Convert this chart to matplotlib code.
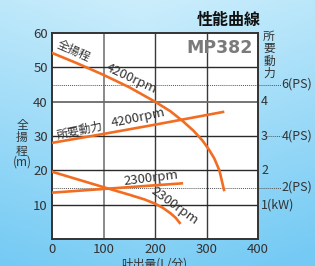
import numpy as np
import matplotlib
matplotlib.use("Agg")
import matplotlib.pyplot as plt

plt.rcParams['font.family'] = ['Noto Sans CJK JP', 'DejaVu Sans']

# ---- data ----
head4200_q = [0, 50, 100, 150, 200, 230, 255, 275, 292, 305, 315, 325, 334]
head4200_h = [54.2, 51.1, 47.8, 44.2, 40.0, 37.2, 34.2, 31.5, 28.7, 26.0, 23.5, 20.0, 14.3]
power4200_q = [0, 100, 200, 332]
power4200_p = [28.0, 30.6, 33.3, 37.0]
head2300_q = [0, 100, 150, 180, 200, 215, 230, 240, 248]
head2300_h = [19.6, 15.1, 12.9, 11.5, 10.3, 9.1, 7.5, 6.2, 4.7]
power2300_q = [0, 252]
power2300_p = [13.5, 16.2]
x_ticks = [0, 100, 200, 300, 400]
y_ticks = [0, 10, 20, 30, 40, 50, 60]
right_kw_labels = [(40, "4"), (30, "3"), (20, "2"), (10, "1(kW)")]
ps_lines = [(45, "6(PS)"), (30, "4(PS)"), (15, "2(PS)")]

orange = "#f26d21"
txt = "#333333"

fig = plt.figure(figsize=(3.15, 2.66), dpi=100)

# background gradient
bg = fig.add_axes([0, 0, 1, 1], zorder=-10)
h, w = 266, 315
yy, xx = np.mgrid[0:h, 0:w]
top = np.array([0xcc, 0xee, 0xfc]) / 255
bot = np.array([0x74, 0xca, 0xf4]) / 255
t = (yy / h) * 0.85 + (np.abs(xx - w * 0.45) / w) * 0.35
t = np.clip(t, 0, 1)[..., None]
img = top * (1 - t) + bot * t
bg.imshow(img, aspect='auto', extent=[0, 1, 0, 1])
bg.set_axis_off()

ax = fig.add_axes([52 / 315, 27 / 266, 206 / 315, 206 / 266])
ax.set_facecolor("white")
ax.set_xlim(0, 400)
ax.set_ylim(0, 60)

# grid
for xv in [100, 200, 300]:
    if xv == 100:
        ax.axvline(xv, color="#8a8a8a", lw=1.4, zorder=1)
    else:
        ax.axvline(xv, color="#3a3a3a", lw=1.0, zorder=1)
for yv in [10, 20, 30, 40, 50]:
    if yv == 40:
        ax.axhline(yv, color="#6a6a6a", lw=1.3, zorder=1)
    else:
        ax.axhline(yv, color="#2a2a2a", lw=1.0, zorder=1)

# dotted PS reference lines
for yv, lab in ps_lines:
    if yv == 30:
        ax.plot([414, 444], [yv, yv], ls=(0, (1, 1)), color="#555555", lw=0.7, clip_on=False)
    else:
        ax.plot([0, 444], [yv, yv], ls=(0, (1, 1)), color="#555555", lw=0.7, clip_on=False, zorder=1.5)
    ax.text(446, yv, lab, fontsize=9, color=txt, va='center', ha='left', clip_on=False)

for yv, lab in right_kw_labels:
    ax.text(406, yv, lab, fontsize=9, color=txt, va='center', ha='left', clip_on=False)

# curves
ax.plot(head4200_q, head4200_h, color=orange, lw=1.9, zorder=3)
ax.plot(power4200_q, power4200_p, color=orange, lw=1.9, zorder=3)
ax.plot(head2300_q, head2300_h, color=orange, lw=1.9, zorder=3)
ax.plot(power2300_q, power2300_p, color=orange, lw=1.9, zorder=3)

# curve labels
ax.text(42, 54.6, "全揚程", fontsize=8.5, color=txt, rotation=-24, ha='center', va='center', zorder=4)
ax.text(155, 46.7, "4200rpm", fontsize=9.5, color=txt, rotation=-25, ha='center', va='center', zorder=4)
ax.text(53, 31.6, "所要動力", fontsize=8.5, color=txt, rotation=12, ha='center', va='center', zorder=4)
ax.text(167, 35.2, "4200rpm", fontsize=9.5, color=txt, rotation=12, ha='center', va='center', zorder=4)
ax.text(193, 17.6, "2300rpm", fontsize=9.5, color=txt, rotation=7, ha='center', va='center', zorder=4)
ax.text(238, 9.6, "2300rpm", fontsize=9.5, color=txt, rotation=-36, ha='center', va='center', zorder=4)

ax.text(325, 55.5, "MP382", fontsize=12.5, fontweight='bold', color="#7a7a7a",
        ha='center', va='center', family='DejaVu Sans', zorder=4)

# ticks
ax.set_xticks(x_ticks)
ax.set_yticks(y_ticks)
ax.set_yticklabels([str(v) if v != 0 else "" for v in y_ticks])
ax.tick_params(length=0, labelsize=9.5, labelcolor=txt, pad=3)
for s in ax.spines.values():
    s.set_color("#333333")
    s.set_linewidth(1.4)

# axis titles
fig.text(22 / 315, 1 - 138 / 266, "全\n揚\n程", fontsize=8.5, color=txt, ha='center', va='center', linespacing=1.0)
fig.text(22 / 315, 1 - 162 / 266, "(m)", fontsize=8.5, color=txt, ha='center', va='center')
fig.text(269 / 315, 1 - 55 / 266, "所\n要\n動\n力", fontsize=8.5, color=txt, ha='center', va='center', linespacing=0.95)
fig.text(154 / 315, 1 - 264 / 266, "吐出量(L/分)", fontsize=8.5, color=txt, ha='center', va='center')
fig.text(229 / 315, 1 - 20 / 266, "性能曲線", fontsize=11.5, fontweight='bold', color="#111111", ha='center', va='center')

fig.savefig("out.png", dpi=100)
